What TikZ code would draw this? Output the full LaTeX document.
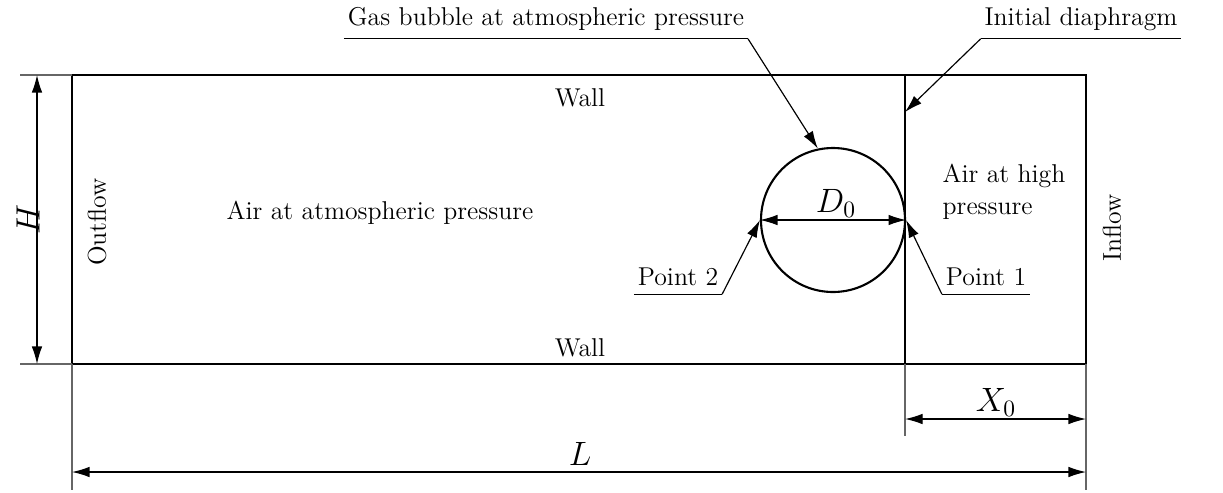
\documentclass[tikz,border=0pt]{standalone}
\usepackage{amsmath}
\usetikzlibrary{arrows.meta,calc,positioning}

\tikzset{
  wallline/.style={line width=0.9pt},
  thinline/.style={line width=0.45pt},
  extline/.style={gray!80!black,line width=0.45pt},
  dimline/.style={line width=0.5pt,{Latex[length=7.5pt,width=4.5pt]}-{Latex[length=7.5pt,width=4.5pt]}},
  leader/.style={line width=0.5pt,-{Latex[length=7.5pt,width=4.5pt]}},
  callout/.style={inner xsep=1.5pt},
  dimlbl/.style={font=\fontsize{14}{16}\selectfont},
}

\begin{document}
\begin{tikzpicture}[x=0.15mm,y=-0.15mm,font=\fontsize{11}{13.8}\selectfont]
\useasboundingbox (0,0) rectangle (1223,492);

% channel
\coordinate (tl) at (72,75);
\coordinate (br) at (1086,364);
\draw[wallline] (tl) rectangle (br);
\node (walltop) at (580,98) {Wall};
\node (wallbot) at (580,348) {Wall};
\node[rotate=90] (outflow) at (97,222) {Outflow};
\node[rotate=90] (inflow) at (1112,228) {Inflow};
\node (airlow) at (380,213) {Air at atmospheric pressure};
\node[align=left] (airhigh) at (1004,192) {Air at high\\pressure};

% diaphragm and bubble
\coordinate (dtop) at (905,75);
\coordinate (dwall) at (905,364);
\coordinate (dbot) at (905,436);
\draw[thinline] (dtop) -- (dwall);
\node[circle,draw,wallline,minimum size=21.6mm,inner sep=0pt] (bubble) at (833,220) {};
\draw[dimline] (bubble.west) -- (bubble.east);
\node[dimlbl] (dzero) at (836,203) {$D_0$};

% extension lines
\foreach \y in {75,364}
  \draw[extline] (20,\y) -- (72,\y);
\foreach \x in {72,1086}
  \draw[extline] (\x,364) -- (\x,490);
\draw[extline] (dwall) -- (dbot);

% dimensions
\draw[dimline] (37,75) -- (37,364);
\node[dimlbl,rotate=90] (hlbl) at (28,220) {$H$};
\draw[dimline] (72,472) -- (1086,472);
\node[dimlbl] (llbl) at (580,454) {$L$};
\draw[dimline] (905,419) -- (1086,419);
\node[dimlbl] (xzero) at (996,402) {$X_0$};

% callouts
\node[callout] (gaslbl) at (546,19) {Gas bubble at atmospheric pressure};
\draw[thinline] (gaslbl.south west) -- (gaslbl.south east);
\draw[leader] (gaslbl.south east) -- (bubble.102);

\node[callout] (diaphlbl) at (1081,19) {Initial diaphragm};
\draw[thinline] (diaphlbl.south west) -- (diaphlbl.south east);
\coordinate (diaphpt) at (905,112);
\draw[leader] (diaphlbl.south west) -- (diaphpt);

\node[callout] (ptwo) at (678,277) {Point 2};
\draw[thinline] (ptwo.south west) -- (ptwo.south east);
\draw[leader] (ptwo.south east) -- (bubble.west);

\node[callout] (pone) at (986,277) {Point 1};
\draw[thinline] (pone.south west) -- (pone.south east);
\draw[leader] (pone.south west) -- (bubble.east);
\end{tikzpicture}
\end{document}
